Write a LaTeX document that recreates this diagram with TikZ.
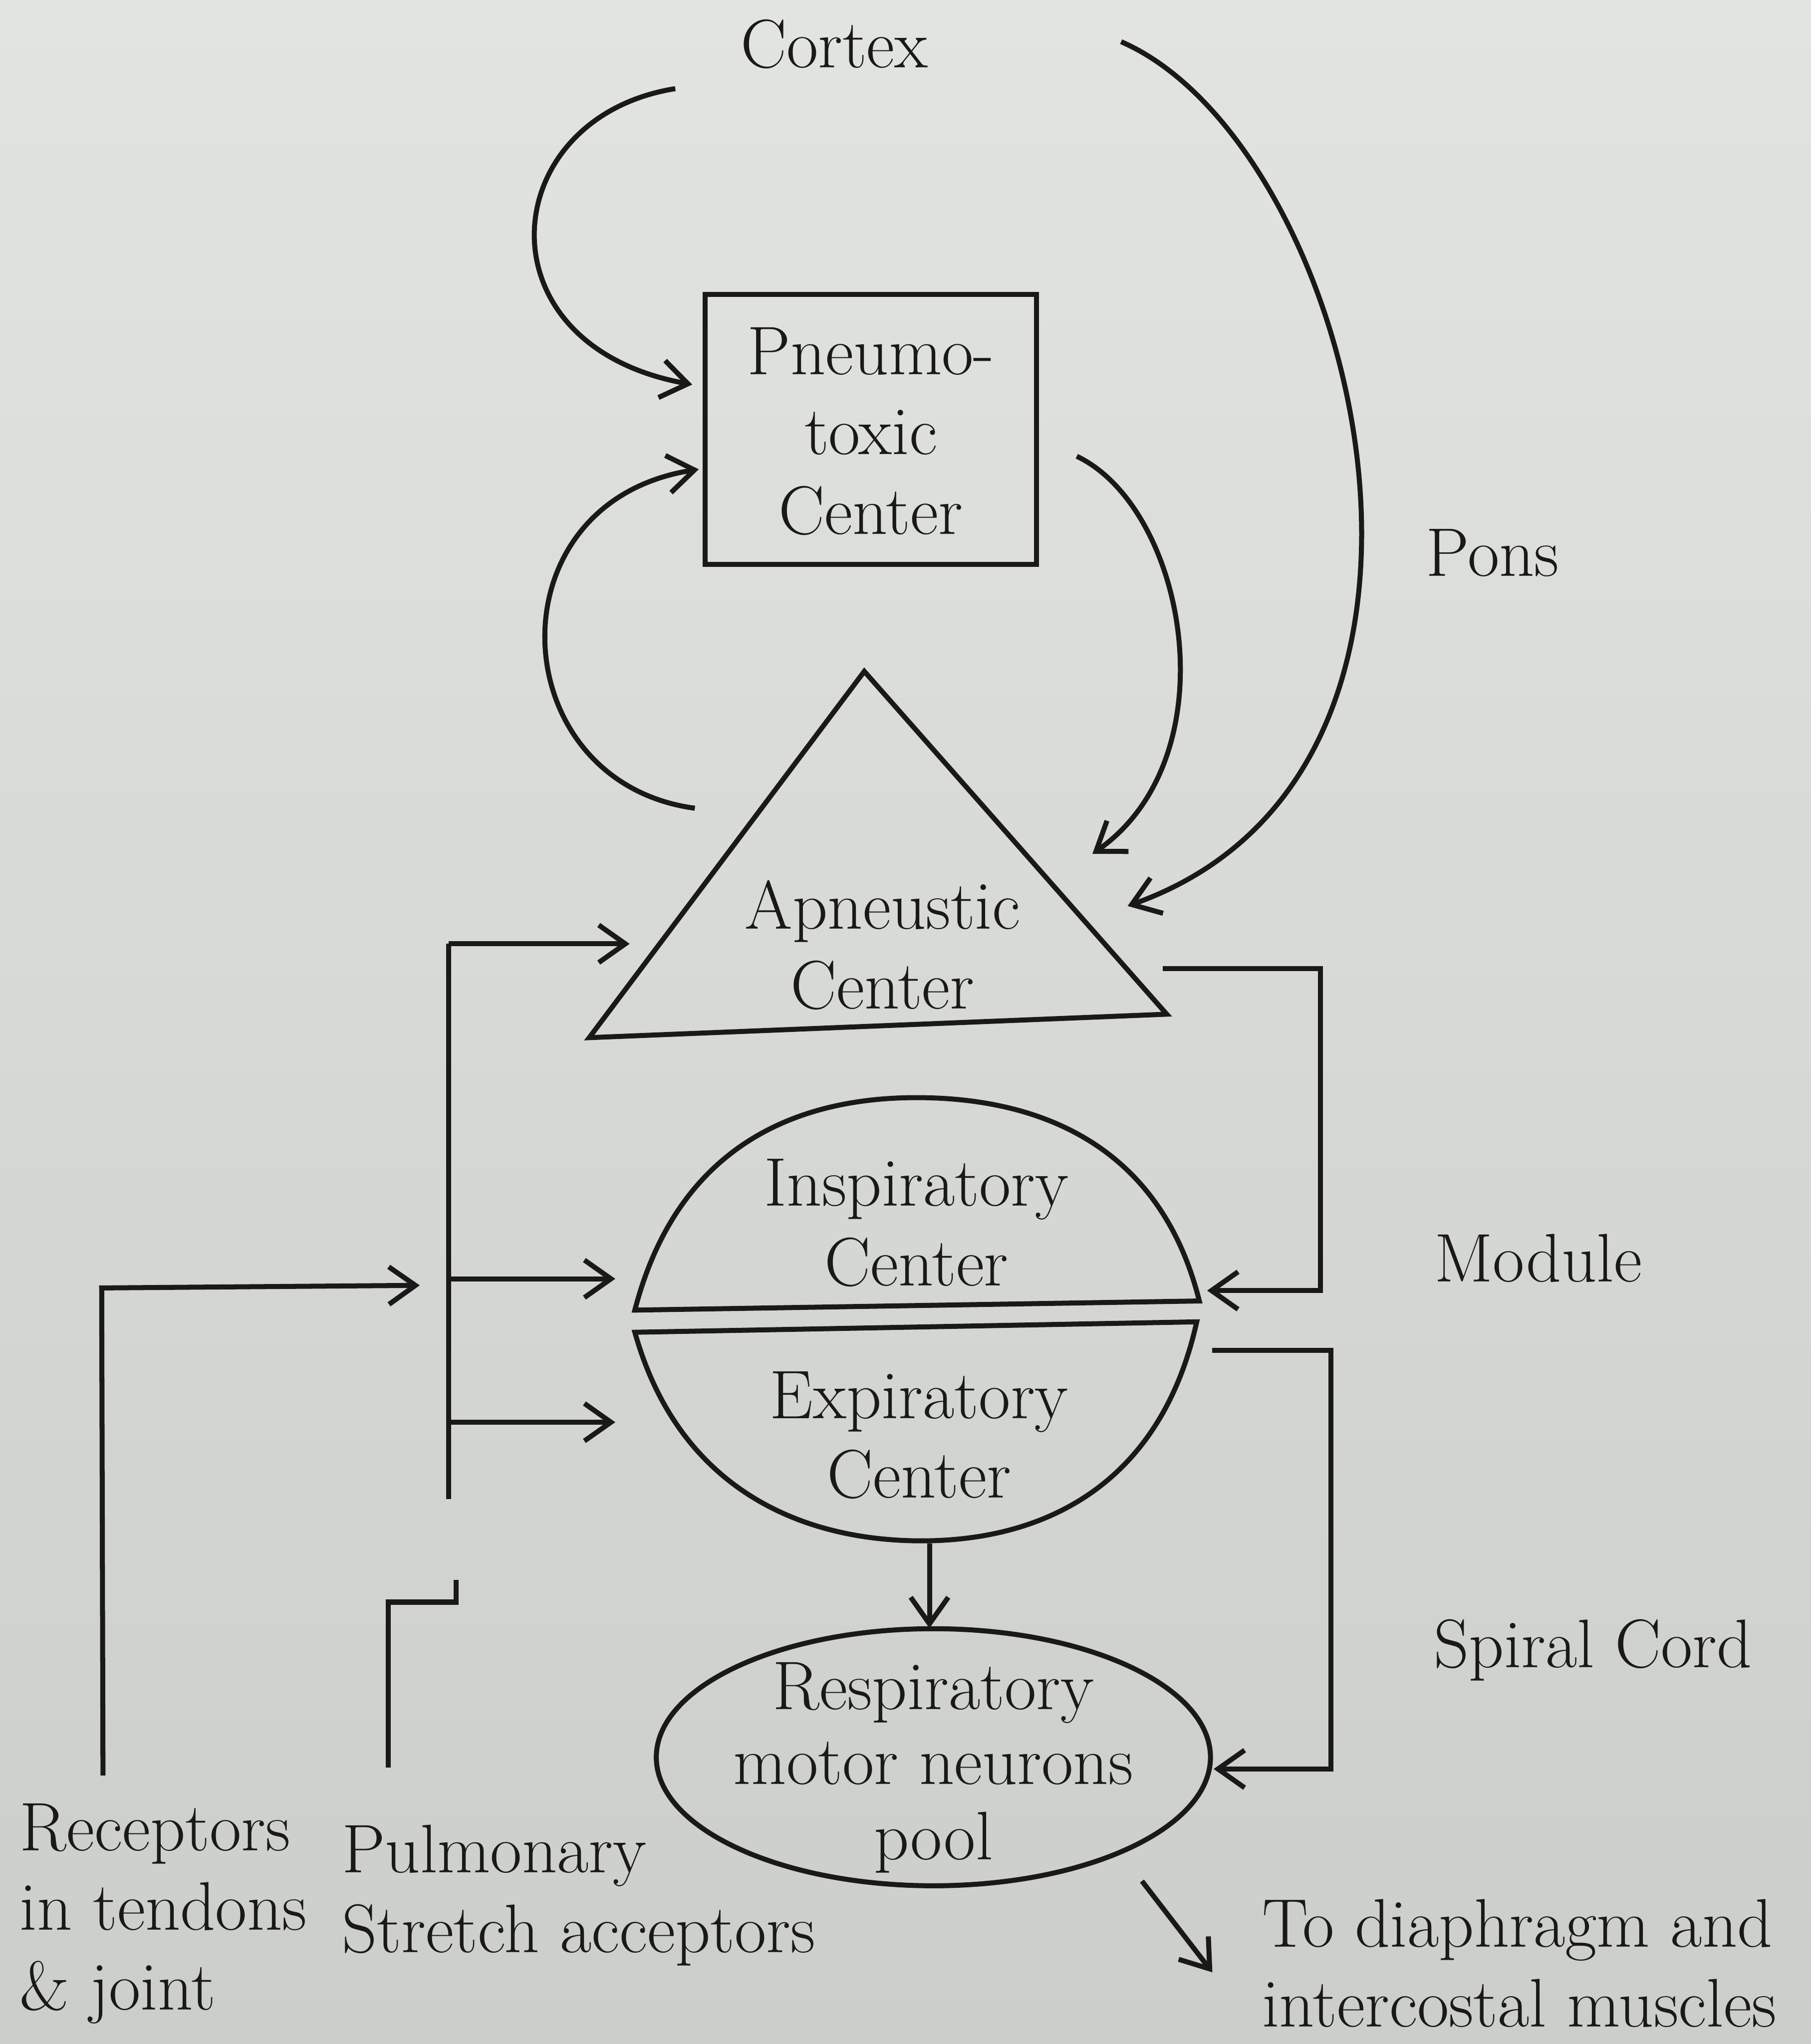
\documentclass[tikz,border=0pt]{standalone}
\usetikzlibrary{arrows.meta,shapes.geometric}
\definecolor{paperA}{RGB}{226,228,223}
\definecolor{paperB}{RGB}{203,206,201}
\definecolor{ink}{RGB}{25,25,25}
\begin{document}
\begin{tikzpicture}[x=0.029316cm, y=-0.029316cm,
  ln/.style={draw=ink, line width=3.2pt},
  arr/.style={ln, -{Straight Barb[length=17pt,width=24pt]}},
  txt/.style={text=ink, font=\fontsize{44}{51}\selectfont, align=center, inner sep=0pt},
  txtl/.style={txt, align=left, anchor=west}]
% background / bounding box
\shade[top color=paperA, bottom color=paperB] (0,0) rectangle (1389,1568);
\useasboundingbox (0,0) rectangle (1389,1568);

% ---------- nodes ----------
\node[txt] (cortex) at (640,34) {Cortex};
\node[ln, rectangle, minimum width=7.45cm, minimum height=6.07cm, inner sep=0pt] (pneumo) at (668,329.5) {};
\node[txt] (pneumotxt) at (668,331) {Pneumo-\\toxic\\Center};
\node[txt] (pons) at (1145,424) {Pons};

% triangle (Apneustic center)
\coordinate (tA) at (663,515);
\coordinate (tL) at (452,796);
\coordinate (tR) at (895,778);
\draw[ln, line join=miter] (tA) -- (tL) -- (tR) -- cycle;
\node[txt] (apn) at (677,725) {Apneustic\\Center};

% inspiratory (upper dome)
\coordinate (iL) at (487,1005);
\coordinate (iR) at (920,998);
\draw[ln] (iL) .. controls (520,878) and (612,842) .. (703,842)
          .. controls (797,842) and (890,878) .. (iR) -- cycle;
\node[txt] (insp) at (703,938) {Inspiratory\\Center};

% expiratory (lower dome)
\coordinate (eL) at (487,1022);
\coordinate (eR) at (918,1014);
\draw[ln] (eL) -- (eR) .. controls (890,1140) and (800,1182) .. (707,1182)
          .. controls (612,1182) and (520,1140) .. cycle;
\node[txt] (exp) at (705,1101) {Expiratory\\Center};

\node[txt] (module) at (1180,965) {Module};
\node[txt] (spiral) at (1222,1266) {Spiral Cord};

% respiratory motor neurons pool
\node[ln, ellipse, minimum width=12.46cm, minimum height=5.78cm, inner sep=0pt] (pool) at (716,1348) {};
\node[txt, font=\fontsize{44}{48}\selectfont] (pooltxt) at (716,1356) {Respiratory\\motor neurons\\pool};

\node[txtl] (recept) at (15,1468) {Receptors\\in tendons\\\& joint};
\node[txtl] (pulm) at (262,1454) {Pulmonary\\Stretch acceptors};
\node[txtl] (todia) at (968,1506) {To diaphragm and\\intercostal muscles};

% ---------- connector end points ----------
\coordinate (c1s) at (518,68);
\coordinate (c1e) at (531,295);
\coordinate (c2s) at (533,620);
\coordinate (c2e) at (536,360);
\coordinate (c3s) at (826,350);
\coordinate (c3e) at (838,655);
\coordinate (c4s) at (860,32);
\coordinate (c4e) at (865,695);

\coordinate (mS) at (892,743);
\coordinate (mC1) at (1013,743);
\coordinate (mC2) at (1013,990);
\coordinate (mE) at (926,990);

\coordinate (sS) at (930,1036);
\coordinate (sC1) at (1021,1036);
\coordinate (sC2) at (1021,1357);
\coordinate (sE) at (931,1357);

\coordinate (spTop) at (344,724);
\coordinate (spBot) at (344,1150);
\coordinate (apnIn) at (483,724);
\coordinate (b1) at (344,981);
\coordinate (b1e) at (472,981);
\coordinate (b2) at (344,1091);
\coordinate (b2e) at (472,1091);

\coordinate (rB) at (79,1362);
\coordinate (rC) at (78,988);
\coordinate (rE) at (322,986);

\coordinate (pB) at (298,1356);
\coordinate (pC1) at (298,1229);
\coordinate (pC2) at (350,1229);
\coordinate (pE) at (350,1212);

\coordinate (exB) at (713,1184);
\coordinate (poT) at (713,1249);
\coordinate (oS) at (876,1443);
\coordinate (oE) at (930,1513);

% ---------- connectors ----------
\draw[arr] (c1s) .. controls (380,90) and (365,265) .. (c1e);
\draw[arr] (c2s) .. controls (385,600) and (375,385) .. (c2e);
\draw[arr] (c3s) .. controls (910,390) and (945,580) .. (c3e);
\draw[arr] (c4s) .. controls (1040,110) and (1160,590) .. (c4e);

\draw[arr] (mS) -- (mC1) -- (mC2) -- (mE);
\draw[arr] (sS) -- (sC1) -- (sC2) -- (sE);

\draw[ln] (spBot) -- (spTop);
\draw[arr] (spTop) -- (apnIn);
\draw[arr] (b1) -- (b1e);
\draw[arr] (b2) -- (b2e);

\draw[arr] (rB) -- (rC) -- (rE);
\draw[ln] (pB) -- (pC1) -- (pC2) -- (pE);

\draw[arr] (exB) -- (poT);
\draw[arr] (oS) -- (oE);
\end{tikzpicture}
\end{document}
